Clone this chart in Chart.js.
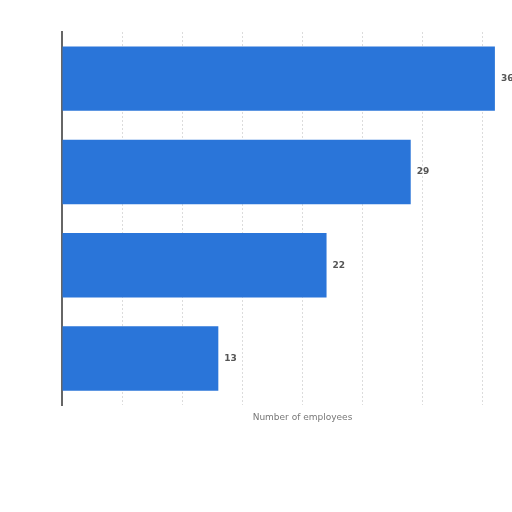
<!DOCTYPE html>
<html>
<head>
<meta charset="utf-8">
<script src="https://cdn.jsdelivr.net/npm/chart.js@4"></script>
<style>
html,body{margin:0;padding:0;background:#fff;overflow:hidden;}
#wrap{width:560px;height:512px;position:relative;}
</style>
</head>
<body>
<div id="wrap"><canvas id="c"></canvas></div>
<script>
const categories = ["A", "B", "C", "D"];
const employees = [36, 29, 22, 13];
const axisTitle = "Number of employees";

const valueLabels = {
  id: 'valueLabels',
  afterDatasetsDraw(chart) {
    const ctx = chart.ctx;
    const meta = chart.getDatasetMeta(0);
    ctx.save();
    ctx.font = 'bold 9px "DejaVu Sans", sans-serif';
    ctx.fillStyle = '#555';
    ctx.textAlign = 'left';
    ctx.textBaseline = 'middle';
    meta.data.forEach((bar, i) => {
      ctx.fillText(String(employees[i]), bar.x + 6, bar.y);
    });
    ctx.restore();
  }
};

new Chart(document.getElementById('c'), {
  type: 'bar',
  data: {
    labels: categories,
    datasets: [{
      data: employees,
      backgroundColor: '#2a75d9',
      borderWidth: 0,
      categoryPercentage: 1,
      barPercentage: 0.69
    }]
  },
  options: {
    indexAxis: 'y',
    responsive: true,
    maintainAspectRatio: false,
    animation: false,
    layout: { padding: { left: 62, right: 17, top: 32, bottom: 89 } },
    plugins: { legend: { display: false }, tooltip: { enabled: false } },
    scales: {
      x: {
        min: 0, max: 40,
        ticks: { display: false, stepSize: 5 },
        grid: { color: '#dcdcdc', drawTicks: false },
        border: { display: false, dash: [2, 2] },
        title: { display: true, text: axisTitle, color: '#777', font: { size: 9, family: '"DejaVu Sans", sans-serif' }, padding: { top: 7, bottom: 0 } }
      },
      y: {
        ticks: { display: false },
        grid: { display: false, drawTicks: false },
        border: { display: true, color: '#666', width: 2 }
      }
    }
  },
  plugins: [valueLabels]
});
</script>
</body>
</html>
